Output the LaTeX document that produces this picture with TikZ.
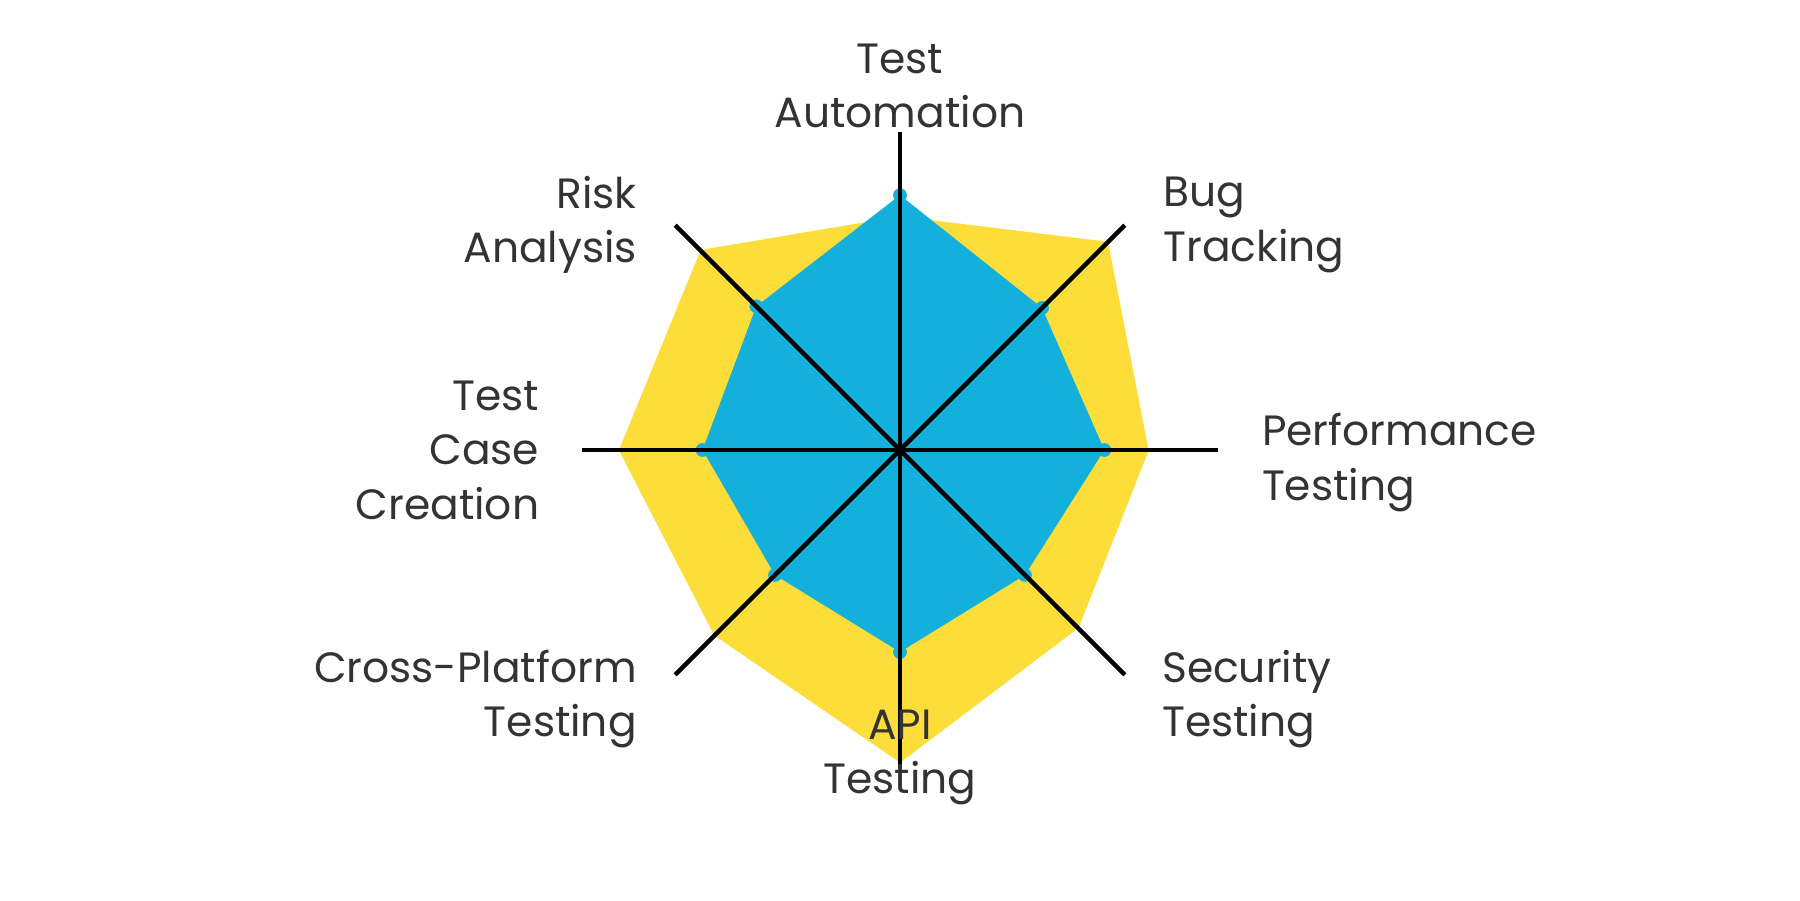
\documentclass[tikz,border=0pt]{standalone}
\usepackage{fontspec}
\setmainfont{Poppins}
\definecolor{skillblue}{HTML}{12B0DB}
\definecolor{skillyellow}{HTML}{FDDD3A}
\definecolor{labelgray}{HTML}{333333}

\begin{document}
\begin{tikzpicture}[x=0.02cm,
            y=0.02cm,
            axis/.style={black,line width=2.2pt},
            skilllabel/.style={text=labelgray,font=\fontsize{21}{27}\selectfont,inner sep=0pt}]

        \useasboundingbox (-784,-392) rectangle (784,392);

        % yellow area
        \fill[skillyellow,draw=skillyellow,line width=4pt,line join=round]
            (90:200) -- (45:252) -- (0:213) -- (-45:216) -- (-90:268)
            -- (-135:225) -- (180:241) -- (135:242) -- cycle;

        % blue area
        \fill[skillblue]
            (90:222) -- (45:175) -- (0:178) -- (-45:154) -- (-90:176)
            -- (-135:154) -- (180:172) -- (135:177) -- cycle;
        \foreach \a/\r in {90/222,45/175,0/178,-45/154,-90/176,-135/154,180/172,135/177}
            \fill[skillblue] (\a:\r) circle (6);

        % axes
        \coordinate (c) at (0,0);
        \foreach \a [count=\i] in {90,45,0,-45,-90,-135,180,135} {
            \coordinate (ax\i) at (\a:277);
            \draw[axis] (c) -- (ax\i);
        }

        \node[skilllabel,align=center]            (auto)  at (0,317)     {Test\\Automation};
        \node[skilllabel,align=left,anchor=west]  (bug)   at (229,196)   {Bug\\Tracking};
        \node[skilllabel,align=left,anchor=west]  (perf)  at (315,-11)   {Performance\\Testing};
        \node[skilllabel,align=left,anchor=west]  (sec)   at (228,-217)  {Security\\Testing};
        \node[skilllabel,align=center]            (api)   at (0,-268)    {API\\Testing};
        \node[skilllabel,align=right,anchor=east] (cross) at (-229,-217) {Cross-Platform\\Testing};
        \node[skilllabel,align=right,anchor=east] (case)  at (-314,0)    {Test\\Case\\Creation};
        \node[skilllabel,align=right,anchor=east] (risk)  at (-229,196)  {Risk\\Analysis};

    \end{tikzpicture}
\end{document}
